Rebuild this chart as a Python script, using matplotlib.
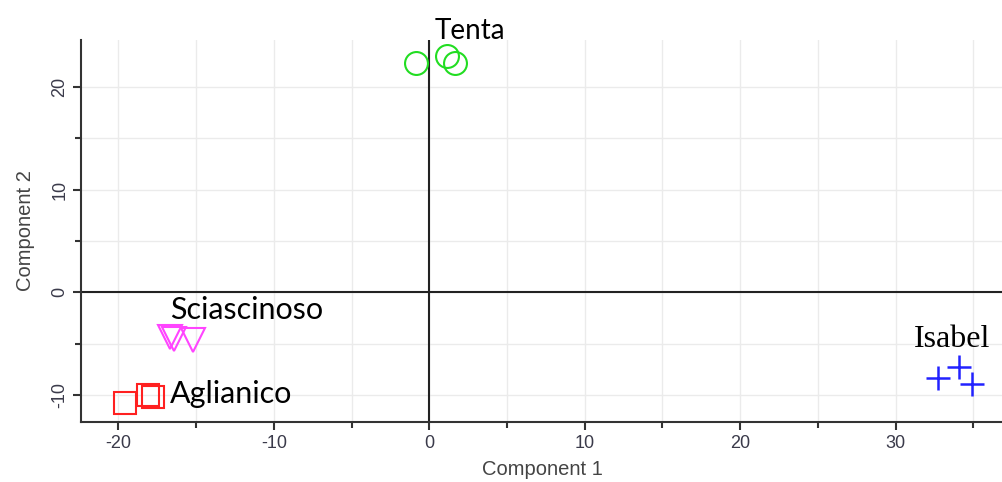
import numpy as np
import matplotlib.pyplot as plt
from matplotlib.ticker import MultipleLocator

plt.rcParams['axes.unicode_minus'] = False

# PCA scores
tenta_x = [-0.84, 1.16, 1.67]
tenta_y = [22.4, 23.0, 22.4]
sciascinoso_x = [-16.7, -16.4, -15.2]
sciascinoso_y = [-4.4, -4.6, -4.7]
aglianico_x = [-19.55, -18.1, -17.8]
aglianico_y = [-10.75, -10.05, -10.25]
isabel_x = [32.7, 34.1, 34.9]
isabel_y = [-8.4, -7.3, -8.9]

fig = plt.figure(figsize=(10.03, 4.82), dpi=100)
ax = fig.add_axes([81 / 1003, 1 - 422 / 482, (1003 - 81) / 1003, (422 - 40) / 482])

ax.set_xlim(-22.4, 36.9)
ax.set_ylim(-12.65, 24.6)

ax.xaxis.set_major_locator(MultipleLocator(10))
ax.xaxis.set_minor_locator(MultipleLocator(5))
ax.yaxis.set_major_locator(MultipleLocator(10))
ax.yaxis.set_minor_locator(MultipleLocator(5))
ax.grid(True, which='both', color='#ebebeb', linewidth=1.0, zorder=0)
ax.set_axisbelow(True)

for s in ['top', 'right']:
    ax.spines[s].set_visible(False)
for s in ['left', 'bottom']:
    ax.spines[s].set_color('#333333')
    ax.spines[s].set_linewidth(1.5)

ax.axhline(0, color='#222222', lw=1.5, zorder=1)
ax.axvline(0, color='#222222', lw=1.5, zorder=1)

ax.tick_params(which='major', length=6, width=1.5, color='#333333', labelsize=13,
               labelcolor='#3a3a4a', pad=3)
ax.tick_params(which='minor', length=4, width=1.5, color='#333333')
for lab in ax.get_xticklabels() + ax.get_yticklabels():
    lab.set_family('Liberation Sans')
plt.setp(ax.get_yticklabels(), rotation=90, va='center')

ax.plot(tenta_x, tenta_y, 'o', ms=16.5, mfc='none', mec='#22dd22', mew=1.5)
ax.plot(sciascinoso_x, sciascinoso_y, 'v', ms=17, mfc='none', mec='#ff44ff', mew=1.5)
ax.plot(aglianico_x, aglianico_y, 's', ms=16, mfc='none', mec='#ff2020', mew=1.5)
ax.plot(isabel_x, isabel_y, '+', ms=17, mec='#2222ff', mew=1.8)

ax.text(2.6, 25.5, 'Tenta', fontsize=20, family='Lato', ha='center', va='center',
        clip_on=False)
ax.text(-16.7, -1.7, 'Sciascinoso', fontsize=22, family='Lato', ha='left', va='center')
ax.text(-16.7, -9.9, 'Aglianico', fontsize=22, family='Lato', ha='left', va='center')
ax.text(33.6, -4.6, 'Isabel', fontsize=23, family='Liberation Serif', ha='center',
        va='center')

ax.set_xlabel('Component 1', fontsize=14.5, family='Liberation Sans', color='#444444',
              labelpad=6)
ax.set_ylabel('Component 2', fontsize=14.5, family='Liberation Sans', color='#444444',
              labelpad=12)

plt.savefig('out.png', dpi=100)
plt.close()
